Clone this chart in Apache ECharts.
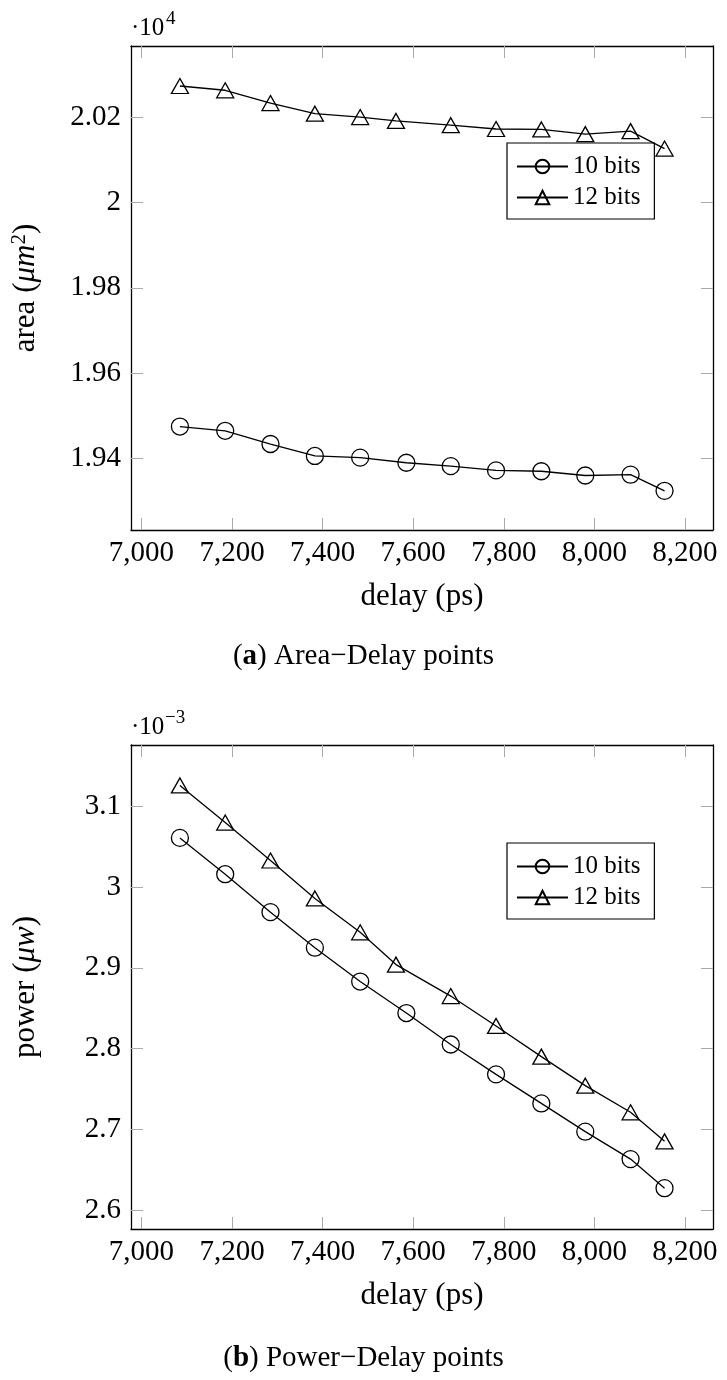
<!DOCTYPE html>
<html>
<head>
<meta charset="utf-8">
<title>Area / Power - Delay points</title>
<script src="https://cdn.jsdelivr.net/npm/echarts@6/dist/echarts.min.js"></script>
<style>
  html, body { margin: 0; padding: 0; background: #fff; }
  #main { width: 727px; height: 1380px; }
</style>
</head>
<body>
<div id="main"></div>
<script type="text/javascript">
// delay (ps) of every point
var delay10 = [7085, 7185, 7285, 7383, 7483, 7585, 7683, 7783, 7883, 7980, 8080, 8155];
var delay12 = [7085, 7185, 7285, 7383, 7483, 7562, 7683, 7783, 7883, 7980, 8080, 8155];
// area, in 10^4 um^2
var area10 = [1.9474, 1.9464, 1.9433, 1.9405, 1.9401, 1.9389, 1.9381, 1.9371, 1.9369, 1.9359, 1.9361, 1.9323];
var area12 = [2.0274, 2.0264, 2.0234, 2.0209, 2.0201, 2.0192, 2.0182, 2.0173, 2.0172, 2.0161, 2.0168, 2.0127];
// power, in 10^-3 uw
var power10 = [3.061, 3.016, 2.969, 2.925, 2.883, 2.844, 2.805, 2.768, 2.732, 2.697, 2.663, 2.627];
var power12 = [3.126, 3.080, 3.033, 2.986, 2.944, 2.904, 2.865, 2.828, 2.790, 2.754, 2.721, 2.685];
// tick labels
var delayTicks = [7000, 7200, 7400, 7600, 7800, 8000, 8200];
var areaTicks = [1.94, 1.96, 1.98, 2.00, 2.02];
var powerTicks = [2.6, 2.7, 2.8, 2.9, 3.0, 3.1];
var names = ['10 bits', '12 bits'];

var FONT = 'Liberation Serif';
var chart = echarts.init(document.getElementById('main'));

function pairs(xs, ys) {
    return xs.map(function (x, i) { return [x, ys[i]]; });
}

// x axis, bottom one has labels, top one only ticks
function xAx(grid, pos, show) {
    return {
        type: 'value', gridIndex: grid, position: pos,
        min: 6977, max: 8262,
        name: show ? 'delay (ps)' : '', nameLocation: 'middle', nameGap: 51,
        nameTextStyle: { fontFamily: FONT, fontSize: 31, color: '#000' },
        axisLine: { show: true, onZero: false, lineStyle: { color: '#000', width: 1.3 } },
        axisTick: { show: true, inside: true, length: 12, customValues: delayTicks,
                    lineStyle: { color: '#aaa', width: 1 } },
        axisLabel: { show: show, customValues: delayTicks, margin: 9,
                     fontFamily: FONT, fontSize: 29, color: '#000',
                     formatter: function (v) { return String(v).replace(/\B(?=(\d{3})+(?!\d))/g, ','); } },
        splitLine: { show: false }
    };
}

function yAx(grid, pos, show, min, max, ticks, name) {
    return {
        type: 'value', gridIndex: grid, position: pos,
        min: min, max: max,
        name: show ? name : '', nameLocation: 'middle', nameGap: 88,
        nameTextStyle: { fontFamily: FONT, fontSize: 31, color: '#000', lineHeight: 34,
                         rich: {
                             i: { fontFamily: FONT, fontSize: 31, fontStyle: 'italic', color: '#000', lineHeight: 34 },
                             s: { fontFamily: FONT, fontSize: 21, color: '#000', verticalAlign: 'top', lineHeight: 34 }
                         } },
        axisLine: { show: true, onZero: false, lineStyle: { color: '#000', width: 1.3 } },
        axisTick: { show: true, inside: true, length: 12, customValues: ticks,
                    lineStyle: { color: '#aaa', width: 1 } },
        axisLabel: { show: show, customValues: ticks, margin: 10,
                     fontFamily: FONT, fontSize: 29, color: '#000',
                     formatter: function (v) { return String(parseFloat(v.toFixed(3))); } },
        splitLine: { show: false }
    };
}

function line(name, symbol, size, xi, yi, data) {
    return {
        name: name, type: 'line', xAxisIndex: xi, yAxisIndex: yi,
        data: data, symbol: symbol, symbolSize: size,
        showAllSymbol: true,
        lineStyle: { color: '#000', width: 1.3 },
        itemStyle: { color: 'rgba(0,0,0,0)', borderColor: '#000', borderWidth: 1.3 },
        emphasis: { disabled: true },
        animation: false
    };
}

function legendAt(top) {
    return {
        data: names, orient: 'vertical', left: 507, top: top,
        padding: [11, 14, 9, 9], itemGap: 6, itemWidth: 51, itemHeight: 17,
        borderColor: '#000', borderWidth: 1.2, borderRadius: 0,
        selectedMode: false,
        textStyle: { fontFamily: FONT, fontSize: 25, color: '#000' }
    };
}

function caption(letter, rest, top) {
    return {
        type: 'text', left: 'center', top: top,
        style: { text: '({b|' + letter + '}) ' + rest, fontFamily: FONT, fontSize: 29, fill: '#000',
                 rich: { b: { fontFamily: FONT, fontSize: 29, fontWeight: 'bold', fill: '#000' } } }
    };
}

// "·10" with its exponent above the plot box
function power10Label(exp, top, expLeft) {
    return [
        { type: 'text', left: 131, top: top,
          style: { text: '·10', fontFamily: FONT, fontSize: 25, fill: '#000' } },
        { type: 'text', left: expLeft, top: top - 6,
          style: { text: exp, fontFamily: FONT, fontSize: 19, fill: '#000' } }
    ];
}

var option = {
    backgroundColor: '#fff',
    animation: false,
    grid: [
        { left: 131, top: 46, width: 582, height: 484 },
        { left: 131, top: 745, width: 582, height: 484 }
    ],
    xAxis: [xAx(0, 'bottom', true), xAx(0, 'top', false), xAx(1, 'bottom', true), xAx(1, 'top', false)],
    yAxis: [
        yAx(0, 'left', true, 1.9231, 2.0368, areaTicks, 'area ({i|μm}{s|2})'),
        yAx(0, 'right', false, 1.9231, 2.0368, areaTicks, ''),
        yAx(1, 'left', true, 2.5764, 3.1761, powerTicks, 'power ({i|μw})'),
        yAx(1, 'right', false, 2.5764, 3.1761, powerTicks, '')
    ],
    legend: [legendAt(143), legendAt(843)],
    series: [
        line(names[0], 'circle', 17, 0, 0, pairs(delay10, area10)),
        line(names[1], 'triangle', [17, 15], 0, 0, pairs(delay12, area12)),
        line(names[0], 'circle', 17, 2, 2, pairs(delay10, power10)),
        line(names[1], 'triangle', [17, 15], 2, 2, pairs(delay12, power12))
    ],
    graphic: power10Label('4', 16, 166)
        .concat(power10Label('−3', 715, 165))
        .concat([
            caption('a', 'Area−Delay points', 642),
            caption('b', 'Power−Delay points', 1344)
        ])
};

chart.setOption(option);
</script>
</body>
</html>
